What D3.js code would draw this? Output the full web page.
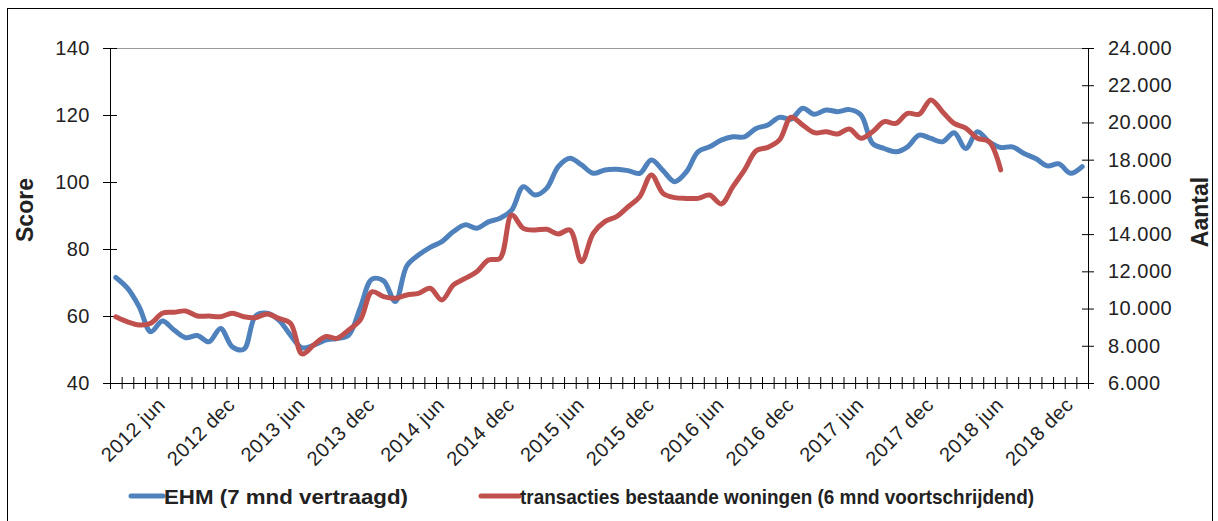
<!DOCTYPE html>
<meta charset="utf-8">
<style type="text/css">
body { margin: 0; background: #fff; }
svg text { font-family: "Liberation Sans", Arial, sans-serif; fill: #222; }
.tick text { font-size: 20px; letter-spacing: 0.5px; }
.axis-title { font-size: 23px; font-weight: bold; }
.legend-text { font-size: 21px; font-weight: bold; }
</style>
<body>
<div class="g-chart"></div>
<script src="https://cdnjs.cloudflare.com/ajax/libs/d3/7.8.5/d3.min.js"></script>
<script type="text/javascript">

// categories: months feb 2012 .. jan 2019
var monthNames = ["jan","feb","mrt","apr","mei","jun","jul","aug","sep","okt","nov","dec"];
var years = [2012, 2013, 2014, 2015, 2016, 2017, 2018, 2019];
var categories = [];
years.forEach(function(y) {
  monthNames.forEach(function(m, i) {
    if ((y == 2012 && i < 1) || (y == 2019 && i > 0)) return;
    categories.push(y + " " + m);
  });
});

var tickLabels = ["2012 jun","2012 dec","2013 jun","2013 dec","2014 jun","2014 dec","2015 jun","2015 dec",
  "2016 jun","2016 dec","2017 jun","2017 dec","2018 jun","2018 dec"];

var scoreTicks = [40, 60, 80, 100, 120, 140];
var aantalTicks = [6000, 8000, 10000, 12000, 14000, 16000, 18000, 20000, 22000, 24000];

// EHM (7 mnd vertraagd) - left axis
var ehm = [71.5, 68.3, 62.8, 55.3, 58.5, 55.8, 53.5, 54.2, 52.3, 56.3,
  50.8, 50.1, 60.0, 60.8, 58.8, 54.3, 50.5, 51.3, 52.8, 53.3,
  54.3, 62.5, 71.0, 70.5, 64.3, 75.0, 78.2, 80.5, 82.2, 85.2,
  87.2, 86.2, 88.1, 89.2, 91.6, 98.6, 96.1, 98.1, 104.6, 107.1,
  105.1, 102.6, 103.6, 103.8, 103.4, 102.6, 106.6, 103.4, 100.1, 103.0,
  109.0, 110.5, 112.5, 113.5, 113.5, 116, 117, 119.3, 118.8, 122,
  120.2, 121.5, 121, 121.6, 120, 111.5, 110, 109, 110.5, 114,
  113, 112, 114.7, 110, 115, 112, 110.3, 110.5, 108.5, 107,
  104.8, 105.4, 102.6, 104.6];

// transacties bestaande woningen (6 mnd voortschrijdend) - right axis
var transacties = [9560, 9290, 9120, 9210, 9750, 9800, 9870, 9600, 9600, 9560,
  9750, 9560, 9510, 9710, 9470, 9210, 7560, 8040, 8490, 8400,
  8850, 9390, 10900, 10640, 10550, 10730, 10820, 11090, 10460, 11270,
  11620, 11980, 12610, 12700, 15030, 14310, 14220, 14260, 14010, 14220,
  12520, 14040, 14670, 14940, 15470, 16010, 17180, 16190, 15960, 15920,
  15920, 16100, 15620, 16550, 17450, 18480, 18660, 19060, 20280, 19860,
  19450, 19500, 19380, 19650, 19150, 19500, 20040, 19950, 20490, 20440,
  21210, 20580, 19950, 19690, 19150, 18970, 17450];

var width = 1218, height = 521;
var plot = {left: 110, right: 1088, top: 48, bottom: 383};

var svg = d3.select(".g-chart").append("svg")
  .attr("width", width)
  .attr("height", height);

// outer frame
svg.append("rect")
  .attr("x", 7.5).attr("y", 8.5)
  .attr("width", 1205).attr("height", 530)
  .attr("fill", "none").attr("stroke", "#000").attr("stroke-width", 1);

var x = d3.scaleBand().domain(categories).range([plot.left, plot.right]);
var xIdx = d3.scaleLinear().domain([0, categories.length]).range([plot.left, plot.right]);
var yL = d3.scaleLinear().domain([40, 140]).range([plot.bottom, plot.top]);
var yR = d3.scaleLinear().domain([6000, 24000]).range([plot.bottom, plot.top]);

function cx(c) { return x(c) + x.bandwidth() / 2; }

// top border of plot area
svg.append("line")
  .attr("x1", plot.left).attr("x2", plot.right)
  .attr("y1", plot.top + 0.5).attr("y2", plot.top + 0.5)
  .attr("stroke", "#999");

// left axis
svg.append("g")
  .attr("transform", "translate(" + plot.left + ",0)")
  .call(d3.axisLeft(yL).tickValues(scoreTicks).tickSize(7).tickPadding(13))
  .call(function(g) {
    g.selectAll(".tick line").attr("x1", 7);
    g.selectAll("path, line").attr("stroke", "#000");
  });

// right axis
svg.append("g")
  .attr("transform", "translate(" + plot.right + ",0)")
  .call(d3.axisRight(yR).tickValues(aantalTicks).tickSize(6).tickPadding(14)
    .tickFormat(function(d) { return d3.format(",.3f")(d / 1000).replace(",", "."); }))
  .call(function(g) {
    g.selectAll(".tick line").attr("x1", -6);
    g.selectAll("path, line").attr("stroke", "#000");
  });

// x axis tick marks (category boundaries)
svg.append("g")
  .attr("transform", "translate(0," + plot.bottom + ")")
  .call(d3.axisBottom(xIdx).tickValues(d3.range(categories.length + 1)).tickSize(6).tickFormat(""))
  .call(function(g) {
    g.selectAll(".tick line").attr("y1", -6);
    g.selectAll("path, line").attr("stroke", "#000");
  });

// x axis labels
svg.append("g")
  .attr("transform", "translate(0," + plot.bottom + ")")
  .call(d3.axisBottom(x).tickValues(tickLabels).tickSize(0))
  .call(function(g) {
    g.select(".domain").remove();
    g.selectAll(".tick text")
      .attr("text-anchor", "end")
      .attr("dy", 0)
      .attr("y", 0)
      .attr("transform", "translate(4,23) rotate(-45)");
  });

// axis titles
svg.append("text")
  .attr("class", "axis-title")
  .attr("text-anchor", "middle")
  .attr("transform", "translate(33,210) rotate(-90)")
  .text("Score");

svg.append("text")
  .attr("class", "axis-title")
  .attr("text-anchor", "middle")
  .attr("transform", "translate(1208,212) rotate(-90)")
  .text("Aantal");

// lines
var lineL = d3.line()
  .x(function(d, i) { return cx(categories[i]); })
  .y(function(d) { return yL(d); })
  .curve(d3.curveCatmullRom);

var lineR = d3.line()
  .x(function(d, i) { return cx(categories[i]); })
  .y(function(d) { return yR(d); })
  .curve(d3.curveCatmullRom);

svg.append("path")
  .datum(ehm)
  .attr("d", lineL)
  .attr("fill", "none")
  .attr("stroke", "#4F81BD")
  .attr("stroke-width", 5)
  .attr("stroke-linejoin", "round")
  .attr("stroke-linecap", "round");

svg.append("path")
  .datum(transacties)
  .attr("d", lineR)
  .attr("fill", "none")
  .attr("stroke", "#C0504D")
  .attr("stroke-width", 5)
  .attr("stroke-linejoin", "round")
  .attr("stroke-linecap", "round");

// legend
var legend = [
  {label: "EHM (7 mnd vertraagd)", color: "#4F81BD", x: 131, len: 32, textW: 244},
  {label: "transacties bestaande woningen (6 mnd voortschrijdend)", color: "#C0504D", x: 481, len: 38, textW: 514}
];

var lg = svg.append("g").selectAll("g")
  .data(legend)
  .enter().append("g")
  .attr("transform", function(d) { return "translate(" + d.x + ",496)"; });

lg.append("line")
  .attr("x1", 0).attr("x2", function(d) { return d.len; })
  .attr("stroke", function(d) { return d.color; })
  .attr("stroke-width", 5)
  .attr("stroke-linecap", "round");

lg.append("text")
  .attr("class", "legend-text")
  .attr("x", function(d) { return d.len + 1; })
  .attr("y", 8)
  .attr("textLength", function(d) { return d.textW; })
  .attr("lengthAdjust", "spacingAndGlyphs")
  .text(function(d) { return d.label; });

</script>
</body>
